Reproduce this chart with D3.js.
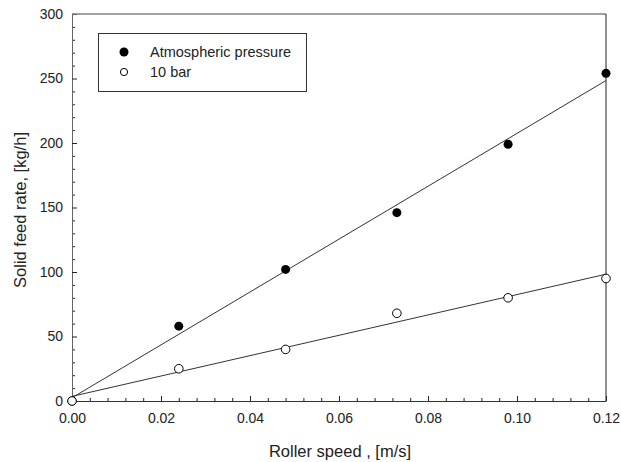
<!DOCTYPE html>
<html>
<head>
<meta charset="utf-8">
<script src="https://cdn.jsdelivr.net/npm/d3@7"></script>
<style>
  body { margin: 0; background: #fff; }
  svg { display: block; font-family: "Liberation Sans", Arial, sans-serif; }
  .tick text { fill: #222; }
</style>
</head>
<body>
<svg id="chart" width="621" height="462"></svg>
<script>
// roller speed [m/s]
var speeds = [0, 0.024, 0.048, 0.073, 0.098, 0.12];
// solid feed rate [kg/h]
var atmRate = [0, 58, 102, 146, 199, 254];
var barRate = [0, 25, 40, 68, 80, 95];
var seriesNames = ["Atmospheric pressure", "10 bar"];

var xMajor = [0, 0.02, 0.04, 0.06, 0.08, 0.10, 0.12];
var yMajor = [0, 50, 100, 150, 200, 250, 300];

var svg = d3.select('#chart');
var box = {l: 72, r: 606, t: 14, b: 401};

var x = d3.scaleLinear().domain([0, 0.12]).range([box.l, box.r]);
var y = d3.scaleLinear().domain([0, 300]).range([box.b, box.t]);

// least squares line through the points
function fit(xs, ys) {
  var mx = d3.mean(xs), my = d3.mean(ys);
  var sxy = d3.sum(xs, function(v, i){ return (v - mx) * (ys[i] - my); });
  var sxx = d3.sum(xs, function(v){ return (v - mx) * (v - mx); });
  var k = sxy / sxx;
  return {k: k, c: my - k * mx};
}

// minor ticks
var xMinor = d3.range(0, 0.1201, 0.004).filter(function(v){
  return Math.abs(v / 0.02 - Math.round(v / 0.02)) > 1e-6;
});
var yMinor = d3.range(0, 301, 10).filter(function(v){ return v % 50 !== 0; });

svg.append('g')
  .attr('transform', 'translate(0,' + box.b + ')')
  .call(d3.axisBottom(x).tickValues(xMinor).tickFormat('').tickSizeInner(-3).tickSizeOuter(0))
  .call(function(g){ g.select('.domain').remove(); g.selectAll('line').attr('stroke', '#222'); });

svg.append('g')
  .attr('transform', 'translate(' + box.l + ',0)')
  .call(d3.axisLeft(y).tickValues(yMinor).tickFormat('').tickSizeInner(-3).tickSizeOuter(0))
  .call(function(g){ g.select('.domain').remove(); g.selectAll('line').attr('stroke', '#222'); });

var xAxis = svg.append('g')
  .attr('transform', 'translate(0,' + box.b + ')')
  .call(d3.axisBottom(x).tickValues(xMajor).tickFormat(d3.format('.2f')).tickSizeInner(-5).tickSizeOuter(0).tickPadding(12));
xAxis.select('.domain').attr('stroke', '#333');
xAxis.selectAll('line').attr('stroke', '#222');
xAxis.selectAll('text').attr('font-size', '14px').attr('font-family', '"Liberation Sans", Arial, sans-serif');

var yAxis = svg.append('g')
  .attr('transform', 'translate(' + box.l + ',0)')
  .call(d3.axisLeft(y).tickValues(yMajor).tickFormat(d3.format('d')).tickSizeInner(-5).tickSizeOuter(0).tickPadding(9));
yAxis.select('.domain').attr('stroke', '#666');
yAxis.selectAll('line').attr('stroke', '#222');
yAxis.selectAll('text').attr('font-size', '14px').attr('font-family', '"Liberation Sans", Arial, sans-serif');

// top and right frame
svg.append('line').attr('x1', box.l).attr('x2', box.r).attr('y1', box.t).attr('y2', box.t)
  .attr('stroke', '#808080').attr('stroke-width', 1.5);
svg.append('line').attr('x1', box.r).attr('x2', box.r).attr('y1', box.t).attr('y2', box.b)
  .attr('stroke', '#222');

// fit lines
[atmRate, barRate].forEach(function(rates){
  var f = fit(speeds, rates);
  svg.append('line')
    .attr('x1', x(0)).attr('y1', y(f.c))
    .attr('x2', x(0.12)).attr('y2', y(f.c + f.k * 0.12))
    .attr('stroke', '#333').attr('stroke-width', 1);
});

// points
svg.selectAll('.atm').data(speeds).enter().append('circle')
  .attr('class', 'atm')
  .attr('cx', function(d){ return x(d); })
  .attr('cy', function(d, i){ return y(atmRate[i]); })
  .attr('r', 4.5).attr('fill', '#000');

svg.selectAll('.bar').data(speeds).enter().append('circle')
  .attr('class', 'bar')
  .attr('cx', function(d){ return x(d); })
  .attr('cy', function(d, i){ return y(barRate[i]); })
  .attr('r', 4.3).attr('fill', '#fff').attr('stroke', '#000').attr('stroke-width', 1);

// legend
var lg = svg.append('g');
lg.append('rect').attr('x', 98.5).attr('y', 33.5).attr('width', 208).attr('height', 58)
  .attr('fill', '#fff').attr('stroke', '#333');
seriesNames.forEach(function(name, i){
  var cy = 52 + i * 20;
  if (i === 0) {
    lg.append('circle').attr('cx', 124).attr('cy', cy).attr('r', 4.5).attr('fill', '#000');
  } else {
    lg.append('circle').attr('cx', 124).attr('cy', cy).attr('r', 3.6)
      .attr('fill', '#fff').attr('stroke', '#000');
  }
  lg.append('text').attr('x', 150).attr('y', cy + 5)
    .attr('font-size', '14.5px').attr('fill', '#222').text(name);
});

// axis titles
svg.append('text').attr('x', 340).attr('y', 457).attr('text-anchor', 'middle')
  .attr('font-size', '16.5px').attr('fill', '#222').text('Roller speed , [m/s]');
svg.append('text').attr('transform', 'translate(26,210) rotate(-90)').attr('text-anchor', 'middle')
  .attr('font-size', '16.5px').attr('fill', '#222').text('Solid feed rate, [kg/h]');
</script>
</body>
</html>
